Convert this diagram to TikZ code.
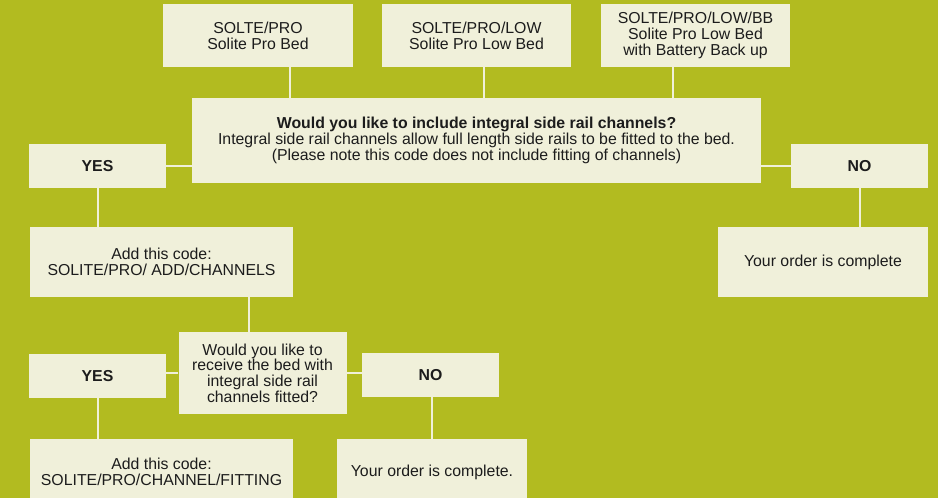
\documentclass[tikz,border=0pt]{standalone}
\usepackage{fontspec}
\setmainfont{Liberation Sans}
\usepackage{xcolor}
\usepackage{tikz}
\usetikzlibrary{positioning,calc}
\definecolor{olivebg}{RGB}{178,187,32}
\definecolor{creambox}{RGB}{240,240,218}
\definecolor{inktext}{RGB}{28,28,28}

\begin{document}
\begin{tikzpicture}[
    x=1bp, y=-1bp,
    box/.style={rectangle, fill=creambox, inner sep=0pt, align=center,
                text=inktext, font=\fontsize{15.9}{15.8}\selectfont},
    answer/.style={box, minimum width=137bp, minimum height=44bp,
                font=\fontsize{15.9}{15.8}\selectfont\bfseries},
    link/.style={draw=creambox, line width=2bp}
]

\useasboundingbox (0,0) rectangle (938,498);
\fill[olivebg] (0,0) rectangle (938,498);

\node[box, minimum width=190bp, minimum height=63bp] (pro) at (258,35.5) {SOLTE/PRO\\Solite Pro Bed};
\node[box, minimum width=189bp, minimum height=63bp] (low) at (476.5,35.5) {SOLTE/PRO/LOW\\Solite Pro Low Bed};
\node[box, minimum width=189bp, minimum height=63bp] (lowbb) at (695.5,35.5) {SOLTE/PRO/LOW/BB\\Solite Pro Low Bed\\with Battery Back up};

\node[box, minimum width=569bp, minimum height=85bp] (channels) at (476.5,140.5)
    {\textbf{Would you like to include integral side rail channels?}\\
     Integral side rail channels allow full length side rails to be fitted to the bed.\\
     (Please note this code does not include fitting of channels)};

\node[answer] (yes1) at (97.5,166) {YES};
\node[answer] (no1) at (859.5,166) {NO};

\node[box, minimum width=263bp, minimum height=70bp] (addchan) at (161.5,262) {Add this code:\\SOLITE/PRO/ ADD/CHANNELS};
\node[box, minimum width=210bp, minimum height=70bp] (done1) at (823,262) {Your order is complete};

\node[box, minimum width=168bp, minimum height=82bp] (fitted) at (262.5,373)
    {Would you like to\\receive the bed with\\integral side rail\\channels fitted?};

\node[answer] (yes2) at (97.5,376) {YES};
\node[answer] (no2) at (430.5,375) {NO};

\node[box, minimum width=263bp, minimum height=66bp] (addfit) at (161.5,472) {Add this code:\\SOLITE/PRO/CHANNEL/FITTING};
\node[box, minimum width=190bp, minimum height=66bp] (done2) at (432,472) {Your order is complete.};

\draw[link] ([xshift=32bp]pro.south) -- ([xshift=32bp]pro.south |- channels.north);
\draw[link] ([xshift=7.5bp]low.south) -- ([xshift=7.5bp]low.south |- channels.north);
\draw[link] ([xshift=-22.5bp]lowbb.south) -- ([xshift=-22.5bp]lowbb.south |- channels.north);
\draw[link] (channels.west |- yes1) -- (yes1.east);
\draw[link] (channels.east |- no1) -- (no1.west);
\draw[link] (yes1.south) -- (yes1.south |- addchan.north);
\draw[link] (no1.south) -- (no1.south |- done1.north);
\draw[link] ([xshift=-14bp]fitted.north) -- ([xshift=-14bp]fitted.north |- addchan.south);
\draw[link] (fitted.west) -- (fitted.west -| yes2.east);
\draw[link] (fitted.east) -- (fitted.east -| no2.west);
\draw[link] (yes2.south) -- (yes2.south |- addfit.north);
\draw[link] (done2.north |- no2.south) -- (done2.north);

\end{tikzpicture}
\end{document}
